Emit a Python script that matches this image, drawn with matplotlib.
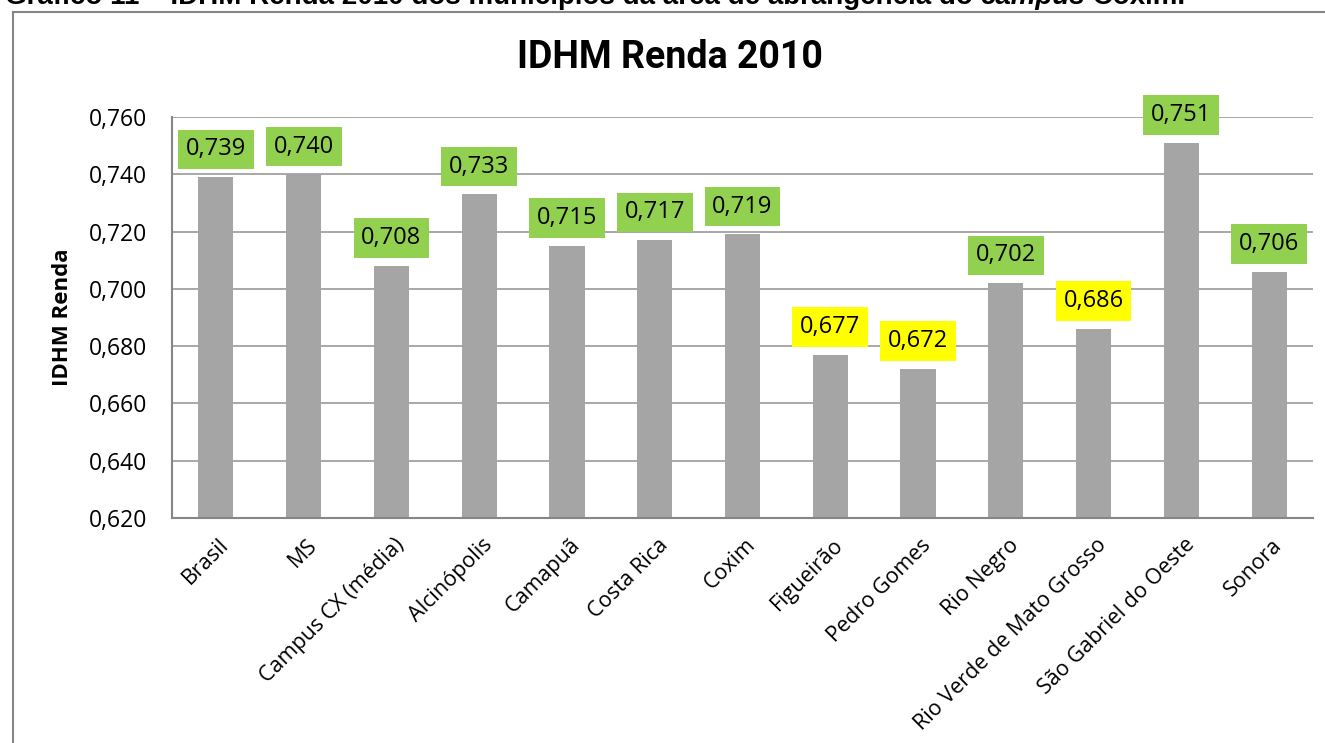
import matplotlib.pyplot as plt
from matplotlib import font_manager
from matplotlib.transforms import ScaledTranslation
from matplotlib.lines import Line2D

# dados
municipios = ['Brasil', 'MS', 'Campus CX (média)', 'Alcinópolis', 'Camapuã', 'Costa Rica', 'Coxim',
              'Figueirão', 'Pedro Gomes', 'Rio Negro', 'Rio Verde de Mato Grosso',
              'São Gabriel do Oeste', 'Sonora']
idhm_renda = [0.739, 0.740, 0.708, 0.733, 0.715, 0.717, 0.719, 0.677, 0.672, 0.702, 0.686, 0.751, 0.706]
yticks = [0.620, 0.640, 0.660, 0.680, 0.700, 0.720, 0.740, 0.760]

instalados = {f.name for f in font_manager.fontManager.ttflist}
corpo = 'Open Sans' if 'Open Sans' in instalados else 'DejaVu Sans'
estreita = 'Liberation Sans Narrow' if 'Liberation Sans Narrow' in instalados else 'Roboto'
legenda_fonte = 'Liberation Sans Narrow' if 'Liberation Sans Narrow' in instalados else 'Liberation Sans'
plt.rcParams['font.family'] = [corpo, 'DejaVu Sans']

fig = plt.figure(figsize=(13.25, 7.43), dpi=100)
ax = fig.add_axes([172/1325, 1 - 518/743, 1141/1325, 401/743])

x = list(range(len(municipios)))
ax.bar(x, idhm_renda, width=0.4, color='#A5A5A5', zorder=2)
ax.set_xlim(-0.5, len(municipios) - 0.5)
ax.set_ylim(0.620, 0.760)
ax.set_yticks(yticks)
ax.set_yticklabels([('%.3f' % v).replace('.', ',') for v in yticks], fontsize=16.5)
ax.tick_params(axis='y', length=0, pad=18)
ax.yaxis.grid(True, color='#9A9A9A', linewidth=1.2, zorder=0)
ax.set_axisbelow(True)
for s in ['top', 'right']:
    ax.spines[s].set_visible(False)
for s in ['left', 'bottom']:
    ax.spines[s].set_color('#868686')
    ax.spines[s].set_linewidth(1.5)

ax.set_xticks(x)
ax.set_xticklabels(municipios, fontsize=15.5, rotation=45, ha='right', va='center', rotation_mode='anchor')
ax.tick_params(axis='x', length=0, pad=0)
desloc = ScaledTranslation(0.10, -0.24, fig.dpi_scale_trans)
for lbl in ax.get_xticklabels():
    lbl.set_transform(lbl.get_transform() + desloc)

ax.set_ylabel('IDHM Renda', fontsize=16, fontweight='bold', labelpad=11)

# rótulos de dados
for i, v in enumerate(idhm_renda):
    cor = '#FFFF00' if v < 0.700 else '#92D050'
    ax.annotate(('%.3f' % v).replace('.', ','), (i, v), xytext=(0, 20), textcoords='offset points',
                ha='center', va='center', fontsize=17,
                bbox=dict(boxstyle='square,pad=0.33', fc=cor, ec='none'))

fig.text(670/1325, 1 - 58/743, 'IDHM Renda 2010', family=estreita, fontweight='bold',
         fontsize=27, ha='center', va='center')

# moldura do gráfico
fig.add_artist(Line2D([13/1325, 13/1325], [0, 1 - 12/743], color='#868686', lw=1.5))
fig.add_artist(Line2D([13/1325, 1], [1 - 12/743, 1 - 12/743], color='#868686', lw=1.5))

# legenda do documento (cortada no topo)
fig.canvas.draw()
r = fig.canvas.get_renderer()
base = 1 - 4/743
t1 = fig.text(5/1325, base, 'Gráfico 11 – IDHM Renda 2010 dos municípios da área de abrangência do ',
              family=legenda_fonte, fontweight='bold', fontsize=20, ha='left', va='baseline')
bb = t1.get_window_extent(r)
t2 = fig.text(bb.x1 / 1325, base, 'campus', family=legenda_fonte, fontweight='bold', style='italic',
              fontsize=20, ha='left', va='baseline')
bb2 = t2.get_window_extent(r)
fig.text(bb2.x1 / 1325, base, ' Coxim.', family=legenda_fonte, fontweight='bold',
         fontsize=20, ha='left', va='baseline')

fig.savefig('out.png', dpi=100)
